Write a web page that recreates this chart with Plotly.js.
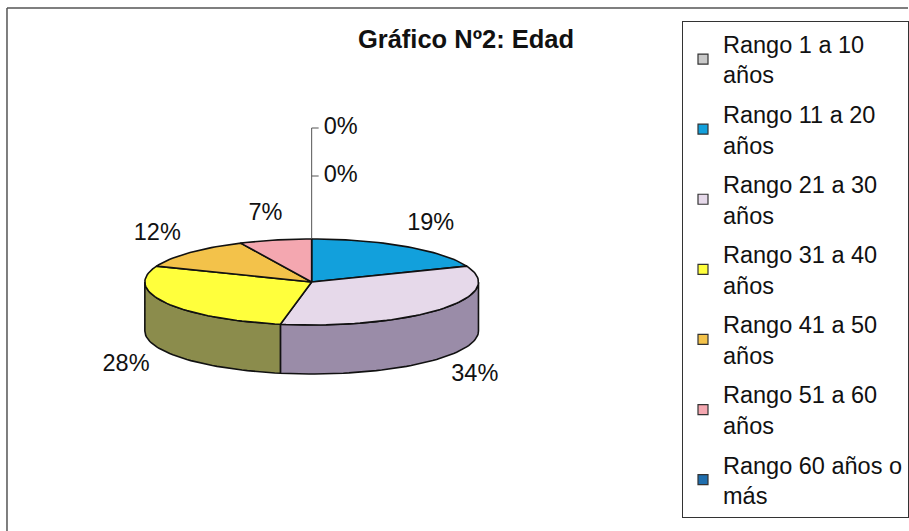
<!DOCTYPE html>
<html>
<head>
<meta charset="utf-8">
<script src="https://cdn.plot.ly/plotly-3.0.1.min.js"></script>
<style>
html,body{margin:0;padding:0;background:#fff;}
#chart{width:909px;height:531px;}
</style>
</head>
<body>
<div id="chart"></div>
<script>
// ---- data ----
const categories = ['Rango 1 a 10 años','Rango 11 a 20 años','Rango 21 a 30 años','Rango 31 a 40 años','Rango 41 a 50 años','Rango 51 a 60 años','Rango 60 años o más'];
const legendNames = ['Rango 1 a 10<br>años','Rango 11 a 20<br>años','Rango 21 a 30<br>años','Rango 31 a 40<br>años','Rango 41 a 50<br>años','Rango 51 a 60<br>años','Rango 60 años o<br>más'];
const values = [0, 19, 34, 28, 12, 7, 0];
const colors = ['#c9c9c9','#12a0dc','#e6d9ea','#ffff3c','#f3c24a','#f4a7b0','#1f6eae'];
const sideColors = ['#8a8a8a','#0a6e9a','#9a8ca8','#8b8c4c','#a98531','#a8747a','#164c78'];
const titleText = 'Gráfico Nº2: Edad';

// ---- geometry (pixel-mapped axes) ----
const W = 909, H = 531;
const CX = 312, CY = 282, RX = 167, RY = 43, DEPTH = 49;
const LR = 212, LRY = 70;
const FONT = 'Arial, "Liberation Sans", sans-serif';

function pt(th, dy) { const r = th * Math.PI / 180; return [CX + RX * Math.sin(r), CY - RY * Math.cos(r) + (dy || 0)]; }
function arc(a, b, dy) {
  const n = Math.max(2, Math.ceil(Math.abs(b - a) / 2));
  const xs = [], ys = [];
  for (let i = 0; i <= n; i++) { const p = pt(a + (b - a) * i / n, dy); xs.push(p[0]); ys.push(p[1]); }
  return [xs, ys];
}

const total = values.reduce((s, v) => s + v, 0);
const starts = []; let acc = 0;
values.forEach(v => { starts.push(acc / total * 360); acc += v; });

const traces = [];
// side faces (front half: 90..270 deg)
values.forEach((v, i) => {
  if (v <= 0) return;
  const a = Math.max(starts[i], 90), b = Math.min(starts[i] + v / total * 360, 270);
  if (b <= a) return;
  const top = arc(a, b, 0), bot = arc(b, a, DEPTH);
  traces.push({
    type: 'scatter', mode: 'lines', x: top[0].concat(bot[0], [top[0][0]]), y: top[1].concat(bot[1], [top[1][0]]),
    fill: 'toself', fillcolor: sideColors[i], line: { color: '#111', width: 1.6 },
    showlegend: false, hoverinfo: 'skip'
  });
});
// top faces
values.forEach((v, i) => {
  if (v <= 0) return;
  const a = starts[i], b = starts[i] + v / total * 360;
  const t = arc(a, b, 0);
  traces.push({
    type: 'scatter', mode: 'lines', x: [CX].concat(t[0], [CX]), y: [CY].concat(t[1], [CY]),
    fill: 'toself', fillcolor: colors[i], line: { color: '#111', width: 1.6 },
    showlegend: false, hoverinfo: 'text', text: categories[i] + ': ' + v + '%'
  });
});
// labels
const lx = [], ly = [], lt = [];
const zx = [], zy = [], zt = [];
let zk = 0;
values.forEach((v, i) => {
  const pct = Math.round(v / total * 100) + '%';
  if (v <= 0) {
    zx.push(CX + 12); zy.push(CY - RY - 63 - 48 * zk); zt.push(pct); zk++;
    return;
  }
  const mid = (starts[i] + v / total * 180) * Math.PI / 180;
  const c = Math.cos(mid);
  lx.push(CX + LR * Math.sin(mid));
  ly.push(CY - LRY * c + (c < 0 ? DEPTH : 0));
  lt.push(pct);
});
traces.push({ type: 'scatter', mode: 'text', x: lx, y: ly, text: lt, textposition: 'middle center',
  textfont: { family: FONT, size: 23.5, color: '#111' }, showlegend: false, hoverinfo: 'skip' });
// leader line for zero-value labels
if (zy.length) {
  const lxs = [CX, CX], lys = [CY - RY, Math.min.apply(null, zy)];
  zy.forEach(y => { lxs.push(null, CX, CX + 7); lys.push(null, y, y); });
  traces.push({ type: 'scatter', mode: 'lines', x: lxs, y: lys, line: { color: '#555', width: 1 }, showlegend: false, hoverinfo: 'skip' });
  traces.push({ type: 'scatter', mode: 'text', x: zx, y: zy, text: zt, textposition: 'middle right',
    textfont: { family: FONT, size: 23.5, color: '#111' }, showlegend: false, hoverinfo: 'skip' });
}
// legend entries
categories.forEach((c, i) => {
  traces.push({ type: 'scatter', mode: 'markers', x: [null], y: [null], name: legendNames[i], legendgroup: 'g' + i,
    marker: { symbol: 'square', size: 10, color: colors[i], line: { color: '#333', width: 1.2 } }, hoverinfo: 'skip' });
});

const layout = {
  width: W, height: H,
  margin: { l: 0, r: 0, t: 0, b: 0 },
  paper_bgcolor: '#fff', plot_bgcolor: '#fff',
  font: { family: FONT, color: '#111' },
  title: { text: '<b>' + titleText + '</b>', x: 466 / W, xanchor: 'center', y: 1 - 39 / H, yanchor: 'middle', yref: 'container',
    font: { family: FONT, size: 25.5, color: '#111' } },
  xaxis: { range: [0, W], visible: false, fixedrange: true },
  yaxis: { range: [H, 0], visible: false, fixedrange: true },
  showlegend: true,
  legend: { x: 683 / W, y: 1 - 21 / H, xanchor: 'left', yanchor: 'top', bgcolor: '#fff', bordercolor: '#333', borderwidth: 1,
    font: { family: FONT, size: 23.5, color: '#111' }, traceorder: 'grouped', tracegroupgap: 6, itemwidth: 30 },
  shapes: [
    { type: 'line', xref: 'x', yref: 'y', x0: 7, y0: 8, x1: W + 5, y1: 8, line: { color: '#555', width: 1.5 } },
    { type: 'line', xref: 'x', yref: 'y', x0: 7, y0: 8, x1: 7, y1: H + 5, line: { color: '#555', width: 1.5 } }
  ]
};
Plotly.newPlot('chart', traces, layout, { displayModeBar: false, staticPlot: true });
</script>
</body>
</html>
